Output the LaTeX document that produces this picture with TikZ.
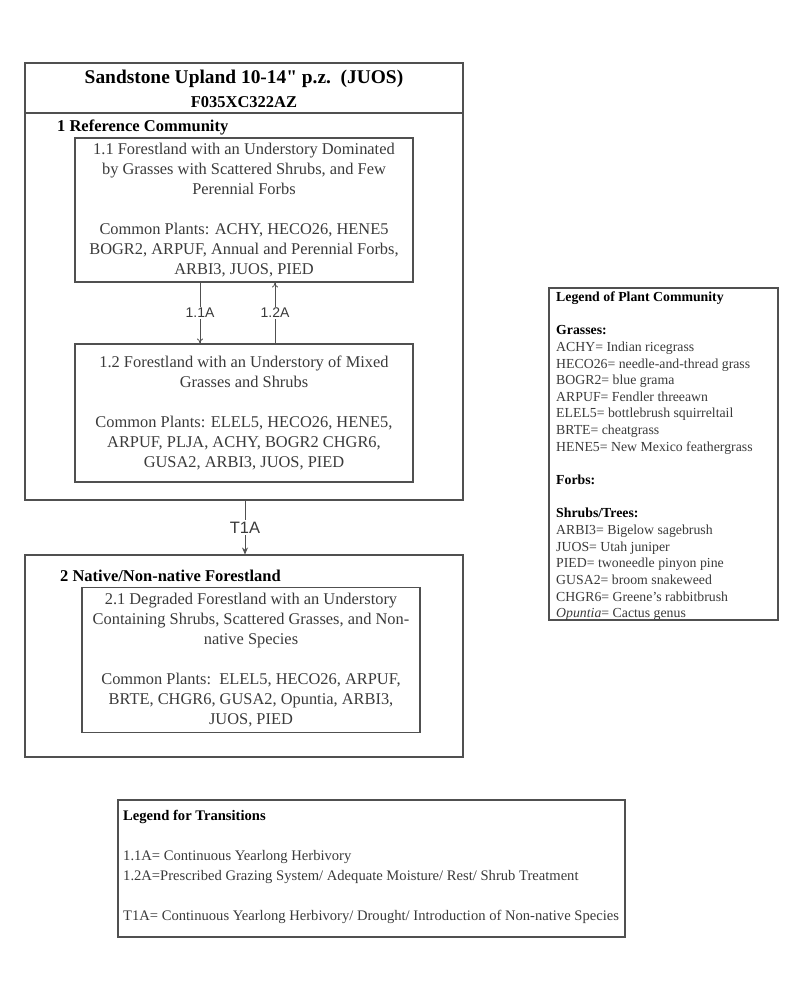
\documentclass[tikz,border=0pt]{standalone}
\usepackage{fontspec}
\setmainfont{Liberation Serif}
\setsansfont{Liberation Sans}
\newfontfamily\rawserif{Liberation Serif}[Ligatures=TeXOff]
\usetikzlibrary{arrows.meta}
\definecolor{ln}{HTML}{505050}
\definecolor{tx}{HTML}{3A3A3A}
\begin{document}
\begin{tikzpicture}[x=1pt,y=-1pt,
  frame/.style={draw=ln,line width=1.1pt,inner sep=0pt},
  statebox/.style={draw=ln,line width=1.1pt,align=center,text=tx,inner sep=0pt,
     font=\fontsize{16.4}{20}\selectfont},
  hdr/.style={anchor=west,font=\bfseries\fontsize{16.5}{18}\selectfont,inner sep=0pt},
  lbl/.style={font=\sffamily\fontsize{14}{16}\selectfont,text=tx,fill=white,inner sep=1.5pt},
  conn/.style={draw=ln,line width=0.8pt},
  legtxt/.style={anchor=north west,align=left,text=tx,inner sep=0pt}]
\useasboundingbox (0,0) rectangle (800,987);
% outer box 1
\node[frame,minimum width=438pt,minimum height=437pt] (box1) at (244,281.5) {};
\draw[ln,line width=1.1pt] (box1.west |- 0,113) coordinate (tl) -- (box1.east |- 0,113) coordinate (tr);
\node[font=\rawserif\bfseries\fontsize{19.4}{21}\selectfont,inner sep=0pt] (title) at (244,79) {Sandstone Upland 10-14" p.z.\ \ (JUOS)};
\node[font=\bfseries\fontsize{16.5}{18}\selectfont,inner sep=0pt] (code) at (244,102) {F035XC322AZ};
\node[hdr] (h1) at (57,127) {1 Reference Community};
\node[statebox,minimum width=338pt,minimum height=144pt] (b11) at (244,210)
 {1.1 Forestland with an Understory Dominated\\by Grasses with Scattered Shrubs, and Few\\Perennial Forbs\\[20pt]Common Plants: ACHY, HECO26, HENE5\\BOGR2, ARPUF, Annual and Perennial Forbs,\\ARBI3, JUOS, PIED};
\node[statebox,minimum width=338pt,minimum height=138pt] (b12) at (244,413)
 {1.2 Forestland with an Understory of Mixed\\Grasses and Shrubs\\[20pt]Common Plants: ELEL5, HECO26, HENE5,\\ARPUF, PLJA, ACHY, BOGR2 CHGR6,\\GUSA2, ARBI3, JUOS, PIED};
\coordinate (xa) at (200,0);
\coordinate (xb) at (275,0);
\draw[conn,-{To[length=5pt,width=6pt]}] (b11.south -| xa) -- node[lbl,pos=0.5] (l11) {1.1A} (b12.north -| xa);
\draw[conn,-{To[length=5pt,width=6pt]}] (b12.north -| xb) -- node[lbl,pos=0.5] (l12) {1.2A} (b11.south -| xb);
% outer box 2
\node[frame,minimum width=438pt,minimum height=202pt] (box2) at (244,656) {};
\node[hdr] (h2) at (60,576) {2 Native/Non-native Forestland};
\node[statebox,minimum width=338pt,minimum height=145pt] (b21) at (251,660)
 {2.1 Degraded Forestland with an Understory\\Containing Shrubs, Scattered Grasses, and Non-\\native Species\\[20pt]Common Plants:\ \ ELEL5, HECO26, ARPUF,\\BRTE, CHGR6, GUSA2, Opuntia, ARBI3,\\JUOS, PIED};
\draw[conn,-{Stealth[length=7pt,width=6pt]}] (box1.south -| 245,0) -- node[lbl,font=\sffamily\fontsize{16.5}{18}\selectfont] (lt1) {T1A} (box2.north -| 245,0);
% legend of plant community
\node[frame,minimum width=229pt,minimum height=332pt] (leg1) at (663.5,454) {};
\node[legtxt,font=\fontsize{13.8}{16.65}\selectfont] (leg1t) at (556,291.5)
 {\textbf{\color{black}Legend of Plant Community}\\[16.65pt]
 \textbf{\color{black}Grasses:}\\
 ACHY= Indian ricegrass\\
 HECO26= needle-and-thread grass\\
 BOGR2= blue grama\\
 ARPUF= Fendler threeawn\\
 ELEL5= bottlebrush squirreltail\\
 BRTE= cheatgrass\\
 HENE5= New Mexico feathergrass\\[16.65pt]
 \textbf{\color{black}Forbs:}\\[16.65pt]
 \textbf{\color{black}Shrubs/Trees:}\\
 ARBI3= Bigelow sagebrush\\
 JUOS= Utah juniper\\
 PIED= twoneedle pinyon pine\\
 GUSA2= broom snakeweed\\
 CHGR6= Greene’s rabbitbrush\\
 \textit{Opuntia}= Cactus genus};
% legend for transitions
\node[frame,minimum width=507pt,minimum height=137pt] (leg2) at (371.5,868.5) {};
\node[legtxt,font=\fontsize{14.6}{20}\selectfont] (leg2t) at (123,810)
 {\textbf{\color{black}Legend for Transitions}\\[20pt]
 1.1A= Continuous Yearlong Herbivory\\
 1.2A=Prescribed Grazing System/ Adequate Moisture/ Rest/ Shrub Treatment\\[20pt]
 T1A= Continuous Yearlong Herbivory/ Drought/ Introduction of Non-native Species};
\end{tikzpicture}
\end{document}
